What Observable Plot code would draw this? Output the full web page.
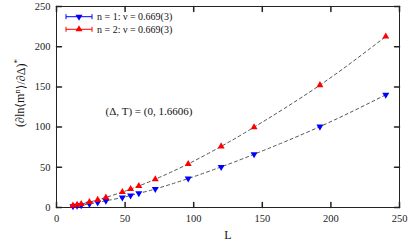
<!DOCTYPE html>
<html>
<head>
<meta charset="utf-8">
<script src="https://cdn.jsdelivr.net/npm/d3@7"></script>
<script src="https://cdn.jsdelivr.net/npm/@observablehq/plot@0.6"></script>
<style>
  html, body { margin: 0; padding: 0; background: white; }
  #chart { width: 411px; height: 247px; }
</style>
</head>
<body>
<div id="chart"></div>
<script>
// Data
const L = [12, 15, 18, 24, 30, 36, 48, 54, 60, 72, 96, 120, 144, 192, 240];
const n1 = [1.6, 2.2, 2.9, 4.5, 6.3, 8.3, 12.4, 15.0, 17.7, 23.0, 36.0, 50.5, 66.2, 100.6, 140.2];
const n2 = [2.4, 3.4, 4.4, 6.8, 9.5, 12.5, 19.2, 22.9, 26.8, 35.2, 54.2, 76.0, 99.9, 152.2, 212.7];
const seriesNames = ["n = 1: ν = 0.669(3)", "n = 2: ν = 0.669(3)"];
const seriesColors = ["#0000ff", "#ff0000"];
const xTicks = [0, 50, 100, 150, 200, 250];
const yTicks = [0, 50, 100, 150, 200, 250];
const annotation = "(Δ, T) = (0, 1.6606)";

const rows1 = L.map((l, i) => ({L: l, v: n1[i]}));
const rows2 = L.map((l, i) => ({L: l, v: n2[i]}));

const tickShape = {draw(ctx, l) { ctx.moveTo(0, 0); ctx.lineTo(0, -l); }};
const font = "Liberation Serif, DejaVu Serif, serif";
const R = 2.6;

const chart = Plot.plot({
  width: 411,
  height: 247,
  marginLeft: 56,
  marginRight: 12,
  marginTop: 6,
  marginBottom: 40,
  style: {fontFamily: font, fontSize: "10px", background: "white", color: "#222"},
  x: {domain: [0, 250]},
  y: {domain: [0, 250]},
  marks: [
    Plot.frame({stroke: "#222", strokeWidth: 1}),
    Plot.axisX(xTicks, {tickSize: 0, tickPadding: 7, label: null, fontSize: 10.5}),
    Plot.axisY(yTicks, {tickSize: 0, tickPadding: 6, label: null, fontSize: 10.5}),
    Plot.vector(xTicks, {x: d => d, frameAnchor: "bottom", length: 5, rotate: 0, anchor: "start", shape: tickShape, stroke: "#222"}),
    Plot.vector(xTicks, {x: d => d, frameAnchor: "top", length: 5, rotate: 180, anchor: "start", shape: tickShape, stroke: "#222"}),
    Plot.vector(yTicks, {y: d => d, frameAnchor: "left", length: 5, rotate: 90, anchor: "start", shape: tickShape, stroke: "#222"}),
    Plot.vector(yTicks, {y: d => d, frameAnchor: "right", length: 5, rotate: -90, anchor: "start", shape: tickShape, stroke: "#222"}),
    Plot.line(rows1, {x: "L", y: "v", curve: "natural", stroke: "#555", strokeWidth: 1, strokeDasharray: "3,3"}),
    Plot.line(rows2, {x: "L", y: "v", curve: "natural", stroke: "#555", strokeWidth: 1, strokeDasharray: "3,3"}),
    Plot.dot(rows1, {x: "L", y: "v", symbol: "triangle", r: R, rotate: 180, fill: seriesColors[0], stroke: "none"}),
    Plot.dot(rows2, {x: "L", y: "v", symbol: "triangle", r: R, fill: seriesColors[1], stroke: "none"}),
    Plot.text([annotation], {frameAnchor: "top-left", dx: 49, dy: 101, textAnchor: "start", fontSize: 11, fill: "#111"}),
    Plot.text(["L"], {frameAnchor: "bottom", dy: 31, fontSize: 12, fill: "#111"})
  ]
});

const svg = d3.select(chart);
// Legend
seriesNames.forEach((name, i) => {
  const y = 16.7 + i * 12.6;
  const g = svg.append("g");
  g.append("line").attr("x1", 66).attr("x2", 92).attr("y1", y).attr("y2", y).attr("stroke", seriesColors[i]).attr("stroke-width", 1);
  g.append("line").attr("x1", 66).attr("x2", 66).attr("y1", y - 2.5).attr("y2", y + 2.5).attr("stroke", seriesColors[i]);
  g.append("line").attr("x1", 92).attr("x2", 92).attr("y1", y - 2.5).attr("y2", y + 2.5).attr("stroke", seriesColors[i]);
  g.append("path").attr("d", d3.symbol(d3.symbolTriangle, Math.PI * R * R)()).attr("fill", seriesColors[i])
    .attr("transform", `translate(79,${y}) rotate(${i === 0 ? 180 : 0})`);
  g.append("text").attr("x", 97).attr("y", y).attr("dy", "0.35em").attr("font-size", 10)
    .attr("text-anchor", "start")
    .attr("font-family", font).attr("fill", "#111").text(name);
});
// Y axis label with superscripts
const yl = svg.append("text").attr("transform", "translate(24,93) rotate(-90)")
  .attr("text-anchor", "middle").attr("font-family", font).attr("font-size", 12).attr("fill", "#111");
yl.append("tspan").text("(∂ln⟨m");
yl.append("tspan").attr("dy", "-0.45em").attr("font-size", 9).text("n");
yl.append("tspan").attr("dy", "0.45em").text("⟩/∂Δ)");
yl.append("tspan").attr("dy", "-0.55em").attr("font-size", 9).text("*");

document.getElementById("chart").appendChild(chart);
</script>
</body>
</html>
